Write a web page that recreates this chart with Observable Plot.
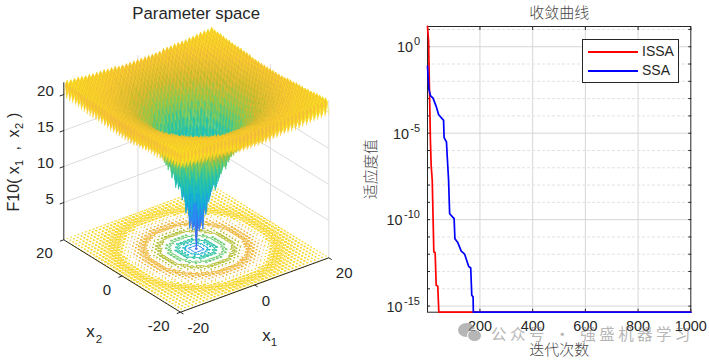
<!DOCTYPE html>
<html>
<head>
<meta charset="utf-8">
<script src="https://cdn.jsdelivr.net/npm/d3@7"></script>
<script src="https://cdn.jsdelivr.net/npm/@observablehq/plot@0.6"></script>
<style>
html,body{margin:0;padding:0;background:#fff;width:709px;height:361px;overflow:hidden}
#wrap{position:relative;width:709px;height:361px;font-family:"Liberation Sans",Arial,sans-serif}
#left,#right{position:absolute;top:0}
#left{left:0}#right{left:350px}
svg{display:block;background:transparent}
#legend{position:absolute;left:582px;top:39px;width:95px;height:42px;border:1px solid #262626;background:#fff;font-size:14px;color:#262626}
#legend div{position:absolute;left:59px;line-height:16px}
#legend i{position:absolute;left:5px;width:50px;height:2px}
#mark{position:absolute;left:458px;top:322px;width:245px;height:22px;color:#8a8a8a;opacity:.62;font:15.5px "Noto Sans CJK SC",sans-serif;pointer-events:none;white-space:nowrap}
#mark span{position:absolute;left:33px;top:0;letter-spacing:3.4px}
#mark b{position:absolute;background:#8a8a8a;border-radius:50%}
</style>
</head>
<body>
<div id="wrap">
<div id="left"></div>
<div id="right"></div>
<div id="legend"><i style="top:11px;background:#ff0000"></i><div style="top:3px">ISSA</div><i style="top:30px;background:#0000ff"></i><div style="top:22px">SSA</div></div>
<div id="mark"><b style="left:0;top:1px;width:17px;height:14px"></b><b style="left:9px;top:7px;width:15px;height:13px;border:1px solid #fff;box-sizing:border-box"></b><span>公众号 · 强盛机器学习</span></div>
</div>
<script>
// ---- Convergence curves ----
const issaIter = [1, 5, 12, 15, 19, 25, 30, 34, 40, 44, 1000];
const issaFit = [15, 2.3, 4e-6, 1.3e-7, 1.9e-8, 1.35e-12, 1.26e-12, 1.6e-14, 1.4e-14, 4.44e-16, 4.44e-16];
const ssaIter = [1, 6, 12, 22, 35, 43, 62, 64, 73, 76, 81, 85, 95, 102, 105, 116, 129, 142, 157, 165, 169, 174, 175, 1000];
const ssaFit = [7.6e-2, 3.7e-3, 1.5e-3, 1.07e-3, 3.2e-4, 1.2e-4, 5.5e-5, 5.5e-6, 3.1e-6, 4.2e-7, 1.9e-8, 2.2e-10, 1.5e-10, 1.15e-10, 7.9e-12, 4.7e-12, 1.5e-12, 1e-12, 2e-13, 1.6e-13, 4.2e-15, 3.4e-15, 4.44e-16, 4.44e-16];
const xTicks = [200, 400, 600, 800, 1000];
const majorExp = [0, -5, -10, -15];
const minorExp = [1, -1, -2, -3, -4, -6, -7, -8, -9, -11, -12, -13, -14];

// ---- Surface heights ----
// Height by distance from the centre (one value per unit of radius, 0..29)
const ringHeight = [1.7,4.3,6.6,8.6,10.3,11.8,13.1,14.3,15.3,16.2,16.9,17.6,18.1,18.7,19.1,19.5,19.8,20.1,20.3,20.6,20.7,20.9,21.0,21.0,21.1,21.2,21.3,21.3,21.4,21.4];
// Spikes of the mesh: offset by how many of (x1,x2) lie on a half integer
const latticeOffset = [-1.7, 0, 0.6];
const contourLevels = [2.5, 5, 7.5, 10, 12.5, 15, 17.5, 20];
const zTicks = [5, 10, 15, 20];
const x1Ticks = [-20, 0, 20];
const x2Ticks = [-20, 0, 20];
const parulaStops = [0, .1, .2, .3, .4, .5, .6, .7, .8, .9, 1];
const parulaColors = ["#3e26a8","#4852f4","#2d87f7","#12b1d6","#1fbfb8","#37c897","#81cc59","#bfbc2b","#f2b83c","#f9d326","#f9fb15"];
const zMax = 22;
// Height on the surface -> height in the colour bar, as the surface's tones read
const shadeFrom = [0, 7.4, 13, 17, 21];
const shadeTo = [0, 5, 10.5, 15.2, 20.5];
const shade = d3.scaleLinear(shadeFrom, shadeTo);

// View: map of the axes box on to the panel
const px = (a, b) => 180 + (a + 20) / 40 * 148.3 - (b + 20) / 40 * 116.7;
const py = (a, b, z = 0) => 311.7 - (a + 20) / 40 * 54.4 - (b + 20) / 40 * 72.4 - (z + 0.18) * 7.2;

const N = 81, step = 0.5;
const coord = i => -20 + i * step;
const zAt = (i, j) => {
  const a = coord(i), b = coord(j);
  return ringHeight[Math.round(Math.hypot(a, b))] + latticeOffset[(i % 2) + (j % 2)];
};
const zGrid = [];
for (let j = 0; j < N; j++) for (let i = 0; i < N; i++) zGrid.push(zAt(i, j));

// Surface quads, back to front; each quad takes the colour of one corner
const cells = [];
let id = 0;
for (let i = N - 2; i >= 0; i--) for (let j = N - 2; j >= 0; j--) {
  const c = [[i, j], [i + 1, j], [i + 1, j + 1], [i, j + 1]];
  const zs = c.map(([p, q]) => zAt(p, q));
  const col = shade(zs[0]);
  for (const k of [0, 1, 2, 3, 0]) {
    cells.push({id, col, X: px(coord(c[k][0]), coord(c[k][1])), Y: py(coord(c[k][0]), coord(c[k][1]), zs[k])});
  }
  id++;
}

// Floor contours
const floor = [];
let sid = 0;
for (const ct of d3.contours().size([N, N]).thresholds(contourLevels)(zGrid)) {
  for (const poly of ct.coordinates) for (const ring of poly) {
    sid++;
    for (const [gx, gy] of ring) {
      const a = -20 + (gx - .5) * step, b = -20 + (gy - .5) * step;
      if (a < -20 || a > 20 || b < -20 || b > 20) { sid++; continue; }
      floor.push({sid, level: ct.value, X: px(a, b), Y: py(a, b, -0.18)});
    }
  }
}

// Walls
const wallH = zTicks.flatMap(z => [
  {x1: px(-20, 20), y1: py(-20, 20, z), x2: px(20, 20), y2: py(20, 20, z)},
  {x1: px(20, 20), y1: py(20, 20, z), x2: px(20, -20), y2: py(20, -20, z)}
]);
const vert = (a, b) => ({x1: px(a, b), y1: py(a, b, -0.18), x2: px(a, b), y2: py(a, b, 21.7)});
const wallV = [vert(0, 20), vert(20, 20), vert(20, 0), vert(20, -20)];
const axesLines = [
  {x1: px(-20, 20), y1: py(-20, 20, -0.18), x2: px(-20, -20), y2: py(-20, -20, -0.18)},
  {x1: px(-20, -20), y1: py(-20, -20, -0.18), x2: px(20, -20), y2: py(20, -20, -0.18)},
  vert(-20, 20),
  ...zTicks.map(z => ({x1: px(-20, 20), y1: py(-20, 20, z), x2: px(-21.1, 20), y2: py(-21.1, 20, z)})),
  ...x1Ticks.map(t => ({x1: px(t, -20), y1: py(t, -20, -0.18), x2: px(t, -21), y2: py(t, -21, -0.18)})),
  ...x2Ticks.map(t => ({x1: px(-20, t), y1: py(-20, t, -0.18), x2: px(-21, t), y2: py(-21, t, -0.18)}))
];
const tc = "#262626", sans = "Liberation Sans, Arial, sans-serif";
// Axis titles in pieces, so the subscripts can sit lower and smaller
const at = (X, Y, text, fontSize, rotate = 0, textAnchor = "middle") =>
  Plot.text([text], {x: () => X, y: () => Y, text: d => d, fontSize, rotate, textAnchor, fill: tc});
const leftPlot = Plot.plot({
  width: 365, height: 361, margin: 0,
  style: {background: "transparent", fontFamily: sans},
  x: {domain: [0, 365], range: [0, 365], axis: null},
  y: {domain: [0, 361], range: [0, 361], axis: null},
  color: {type: "linear", domain: parulaStops.map(t => t * zMax), range: parulaColors},
  marks: [
    Plot.link(wallH, {x1: "x1", y1: "y1", x2: "x2", y2: "y2", stroke: "#dcdcdc", strokeWidth: 1}),
    Plot.link(wallV, {x1: "x1", y1: "y1", x2: "x2", y2: "y2", stroke: "#dcdcdc", strokeWidth: 1}),
    Plot.line(floor, {x: "X", y: "Y", z: "sid", stroke: "level", strokeWidth: 1}),
    Plot.line(cells, {x: "X", y: "Y", z: "id", fill: "col", stroke: "col", strokeWidth: 0.25}),
    Plot.link(axesLines, {x1: "x1", y1: "y1", x2: "x2", y2: "y2", stroke: tc, strokeWidth: 1}),
    Plot.text(zTicks, {x: () => px(-20, 20), y: z => py(-20, 20, z), text: d => String(d), textAnchor: "end", dx: -10, dy: -3, fontSize: 15, fill: tc}),
    Plot.text(x1Ticks, {x: t => px(t, -20), y: t => py(t, -20, -0.18), text: d => String(d), textAnchor: "start", dx: 7, dy: 15.7, fontSize: 15, fill: tc}),
    Plot.text(x2Ticks, {x: t => px(-20, t), y: t => py(-20, t, -0.18), text: d => String(d), textAnchor: "end", dx: -11, dy: 13.7, fontSize: 15, fill: tc}),
    at(195.7, 13, "Parameter space", 16.8),
    at(266, 335, "x", 17), at(273.5, 342, "1", 11.5),
    at(90, 331, "x", 17), at(98.5, 339, "2", 11.5),
    at(13, 211, "F10( x", 16, -90, "start"),
    at(18.5, 165.5, "1", 11, -90, "start"),
    at(13, 150, ",", 16, -90, "start"),
    at(13, 137, "x", 16, -90, "start"),
    at(18.5, 128.5, "2", 11, -90, "start"),
    at(13, 117.5, ")", 16, -90, "start")
  ]
});
document.getElementById("left").append(leftPlot);

// Right panel
const seriesOf = (name, it, fit) => it.map((x, k) => ({name, x, y: fit[k]}));
const curves = [...seriesOf("ISSA", issaIter, issaFit), ...seriesOf("SSA", ssaIter, ssaFit)];
const expLabel = majorExp.flatMap(e => {
  const w = {1: 6.5, 2: 10.5, 3: 17}[String(e).length];
  return [
    Plot.text([e], {x: () => 1, y: d => 10 ** d, text: d => String(d), textAnchor: "end", dx: -7.5, dy: -5, fontSize: 11, fill: tc}),
    Plot.text([e], {x: () => 1, y: d => 10 ** d, text: () => "10", textAnchor: "end", dx: -7.5 - w - 0.5, dy: 1, fontSize: 14.4, fill: tc})
  ];
});
const cjk = {fontFamily: "Noto Sans CJK SC", fontSize: 15, letterSpacing: 2.6, fill: "#444", fontWeight: 300, textAnchor: "middle", lineAnchor: "middle"};
const rightPlot = Plot.plot({
  width: 359, height: 361,
  marginLeft: 77, marginRight: 18.7, marginTop: 26, marginBottom: 49.3,
  style: {background: "transparent", fontFamily: sans},
  x: {type: "linear", domain: [1, 1000], axis: null},
  y: {type: "log", domain: [4.44e-16, 14.8], axis: null},
  marks: [
    Plot.ruleX(xTicks.slice(0, 4), {stroke: "#d6d6d6", strokeWidth: 1}),
    Plot.ruleY(minorExp, {y: d => 10 ** d, stroke: "#e2e2e2", strokeWidth: 1, strokeDasharray: "3,2"}),
    Plot.ruleY(majorExp, {y: d => 10 ** d, stroke: "#d6d6d6", strokeWidth: 1}),
    Plot.axisX({ticks: xTicks, anchor: "bottom", tickSize: -3, tickPadding: 12, fontSize: 14.4, color: tc, label: null, tickFormat: d => String(d)}),
    Plot.axisX({ticks: xTicks, anchor: "top", tickSize: -3, color: tc, label: null, tickFormat: () => ""}),
    Plot.axisY({ticks: [...majorExp, ...minorExp].map(d => 10 ** d), anchor: "left", tickSize: -3, color: tc, label: null, tickFormat: () => ""}),
    Plot.axisY({ticks: [...majorExp, ...minorExp].map(d => 10 ** d), anchor: "right", tickSize: -3, color: tc, label: null, tickFormat: () => ""}),
    Plot.frame({stroke: tc, strokeWidth: 1}),
    Plot.line(curves, {x: "x", y: "y", z: "name", stroke: d => d.name === "ISSA" ? "#ff0000" : "#0000ff", strokeWidth: 1.7}),
    ...expLabel,
    Plot.text(["收敛曲线"], {frameAnchor: "top", dy: -13, ...cjk}),
    Plot.text(["迭代次数"], {frameAnchor: "bottom", dy: 38, ...cjk}),
    Plot.text(["适应度值"], {frameAnchor: "left", dx: -56.5, rotate: -90, ...cjk})
  ]
});
document.getElementById("right").append(rightPlot);
</script>
</body>
</html>
